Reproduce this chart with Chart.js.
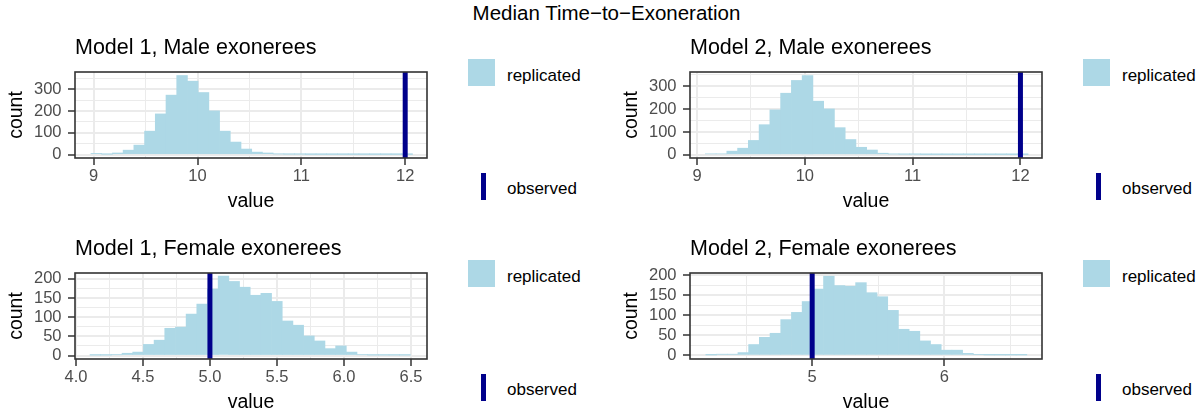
<!DOCTYPE html>
<html>
<head>
<meta charset="utf-8">
<title>Median Time-to-Exoneration</title>
<script src="https://cdn.jsdelivr.net/npm/chart.js@4.4.1/dist/chart.umd.min.js"></script>
<style>
    body { margin: 0; background: #fff; }
    #wrap {
        position: relative;
        width: 1200px;
        height: 415px;
        overflow: hidden;
        font-family: 'Liberation Sans', Arial, Helvetica, sans-serif;
    }
    #main-title {
        position: absolute;
        left: 0;
        top: 1px;
        width: 1213px;
        text-align: center;
        font-size: 20.5px;
        line-height: 24px;
        color: #000;
    }
    .panel { position: absolute; width: 440px; height: 187px; }
    .key-rep { position: absolute; width: 27px; height: 27px; background: #ADD8E6; }
    .key-obs { position: absolute; width: 5px; height: 27px; background: #00008B; }
    .key-txt { position: absolute; font-size: 17px; line-height: 20px; color: #000; white-space: nowrap; }
</style>
</head>
<body>
<div id="wrap">
    <div id="main-title">Median Time&#8722;to&#8722;Exoneration</div>
</div>
<script>
// ---- data (30 histogram bins per panel) ----
const panelTitles = [
    'Model 1, Male exonerees',
    'Model 2, Male exonerees',
    'Model 1, Female exonerees',
    'Model 2, Female exonerees'
];

const countsM1Male = [6, 2, 8, 21, 44, 108, 187, 273, 363, 337, 285, 201, 108, 58, 26, 12, 8, 3, 2, 2, 1, 1, 1, 1, 1, 1, 1, 1, 1, 1];
const countsM2Male = [4, 4, 16, 29, 63, 132, 197, 270, 326, 347, 235, 201, 119, 67, 33, 21, 7, 3, 2, 2, 1, 1, 1, 1, 1, 1, 1, 1, 1, 1];
const countsM1Female = [1, 1, 2, 6, 9, 29, 40, 71, 74, 108, 134, 173, 207, 193, 178, 157, 162, 141, 90, 79, 51, 38, 18, 25, 9, 2, 1, 1, 1, 1];
const countsM2Female = [1, 3, 3, 7, 27, 45, 55, 89, 107, 134, 165, 197, 174, 172, 181, 156, 146, 112, 65, 60, 36, 27, 13, 13, 5, 2, 1, 1, 1, 1];

// left edge of the first bin and the bin width, per panel
const binStarts = [8.974, 9.077, 4.105, 4.195];
const binWidths = [0.1032, 0.0998, 0.0797, 0.081];

// observed median per panel
const observedValues = [12, 12, 5, 5];

// axes
const xLimits = [[8.82, 12.21], [8.935, 12.2], [3.993, 6.62], [4.075, 6.74]];
const yLimits = [[-15, 379], [-14, 363], [-9, 215], [-9, 205]];
const xMajorTicks = [[9, 10, 11, 12], [9, 10, 11, 12], [4, 4.5, 5, 5.5, 6, 6.5], [5, 6]];
const xTickLabels = [['9', '10', '11', '12'], ['9', '10', '11', '12'], ['4.0', '4.5', '5.0', '5.5', '6.0', '6.5'], ['5', '6']];
const xMinorTicks = [[9.5, 10.5, 11.5], [9.5, 10.5, 11.5], [4.25, 4.75, 5.25, 5.75, 6.25], [4.5, 5.5, 6.5]];
const yMajorTicks = [[0, 100, 200, 300], [0, 100, 200, 300], [0, 50, 100, 150, 200], [0, 50, 100, 150, 200]];
const yTickLabels = [['0', '100', '200', '300'], ['0', '100', '200', '300'], ['0', '50', '100', '150', '200'], ['0', '50', '100', '150', '200']];
const yMinorTicks = [[50, 150, 250, 350], [50, 150, 250, 350], [25, 75, 125, 175], [25, 75, 125, 175]];

const allCounts = [countsM1Male, countsM2Male, countsM1Female, countsM2Female];

// ---- styling ----
const FONT = "'Liberation Sans', Arial, Helvetica, sans-serif";
const FILL = '#ADD8E6';      // lightblue
const OBS = '#00008B';       // darkblue
const GRID = '#EBEBEB';      // grey92
const DARK = '#333333';      // grey20
const panelLeft = [0, 615, 0, 615];
const panelTop = [28, 28, 229, 229];

/**
 * Full panel border (theme_bw draws it on top of the data)
 */
const panelBorder = {
    id: 'panelBorder',
    afterDatasetsDraw(chart) {
        const { ctx, chartArea: a } = chart;
        ctx.save();
        ctx.strokeStyle = DARK;
        ctx.lineWidth = 1.6;
        ctx.strokeRect(a.left, a.top, a.right - a.left, a.bottom - a.top);
        ctx.restore();
    }
};

/**
 * Axis with ggplot style major + minor grid
 */
function axisOptions(majors, labels, minors, limits, isX) {
    const isMajor = (v) => majors.indexOf(v) !== -1;
    return {
        type: 'linear',
        min: limits[0],
        max: limits[1],
        offset: false,
        afterBuildTicks: (scale) => {
            scale.ticks = majors.concat(minors).sort((a, b) => a - b).map(v => ({ value: v }));
        },
        afterFit: (scale) => {
            if (isX) {
                scale.height = 57;
            } else {
                scale.width = 75;
            }
        },
        ticks: {
            autoSkip: false,
            maxRotation: 0,
            padding: isX ? 2 : 6.5,
            color: '#4D4D4D',
            font: { family: FONT, size: 16.5 },
            callback: (v) => {
                const j = majors.indexOf(v);
                return j === -1 ? '' : labels[j];
            }
        },
        grid: {
            offset: false,
            color: GRID,
            lineWidth: (ctx) => (ctx.tick && isMajor(ctx.tick.value) ? 2 : 1),
            tickLength: 7,
            tickColor: (ctx) => (ctx.tick && isMajor(ctx.tick.value) ? DARK : 'rgba(0,0,0,0)'),
            tickWidth: (ctx) => (ctx.tick && isMajor(ctx.tick.value) ? 1.5 : 0)
        },
        border: { display: false },
        title: {
            display: true,
            text: isX ? 'value' : 'count',
            color: '#000',
            font: { family: FONT, size: 19.5 },
            padding: isX ? { top: 0, bottom: 1.6 } : { top: 5.3, bottom: 0 }
        }
    };
}

/**
 * Build one histogram panel
 */
function buildPanel(i) {
    const wrap = document.getElementById('wrap');
    const box = document.createElement('div');
    box.className = 'panel';
    box.style.left = panelLeft[i] + 'px';
    box.style.top = panelTop[i] + 'px';
    const canvas = document.createElement('canvas');
    canvas.width = 440;
    canvas.height = 187;
    box.appendChild(canvas);
    wrap.appendChild(box);

    const start = binStarts[i];
    const width = binWidths[i];
    const bars = allCounts[i].map((c, k) => ({ x: start + (k + 0.5) * width, y: c }));
    const obs = observedValues[i];

    new Chart(canvas, {
        type: 'bar',
        data: {
            datasets: [
                {
                    type: 'line',
                    label: 'observed',
                    data: [{ x: obs, y: yLimits[i][0] }, { x: obs, y: yLimits[i][1] }],
                    borderColor: OBS,
                    borderWidth: 5,
                    pointRadius: 0,
                    clip: 0,
                    order: 0
                },
                {
                    type: 'bar',
                    label: 'replicated',
                    data: bars,
                    backgroundColor: FILL,
                    borderWidth: 0,
                    barPercentage: 1,
                    categoryPercentage: 1,
                    order: 1
                }
            ]
        },
        options: {
            responsive: false,
            maintainAspectRatio: false,
            animation: false,
            layout: { padding: { left: 0, right: 13, top: 0, bottom: 0 } },
            plugins: {
                legend: { display: false },
                tooltip: { enabled: false },
                title: {
                    display: true,
                    text: panelTitles[i],
                    align: 'start',
                    fullSize: false,
                    color: '#000',
                    font: { family: FONT, size: 21.5, weight: 'normal' },
                    padding: { top: 6.8, bottom: 11.4 }
                }
            },
            scales: {
                x: axisOptions(xMajorTicks[i], xTickLabels[i], xMinorTicks[i], xLimits[i], true),
                y: axisOptions(yMajorTicks[i], yTickLabels[i], yMinorTicks[i], yLimits[i], false)
            }
        },
        plugins: [panelBorder]
    });

    // legend, placed to the right of the panel like ggplot
    const lx = panelLeft[i];
    const ly = panelTop[i] - 28;
    const parts = [
        ['key-rep', 468, 59, ''],
        ['key-txt', 507, 65.5, 'replicated'],
        ['key-obs', 481, 173, ''],
        ['key-txt', 507, 179, 'observed']
    ];
    parts.forEach(([cls, x, y, txt]) => {
        const el = document.createElement('div');
        el.className = cls;
        el.style.left = (lx + x) + 'px';
        el.style.top = (ly + y) + 'px';
        el.textContent = txt;
        wrap.appendChild(el);
    });
}

[0, 1, 2, 3].forEach(buildPanel);
</script>
</body>
</html>
